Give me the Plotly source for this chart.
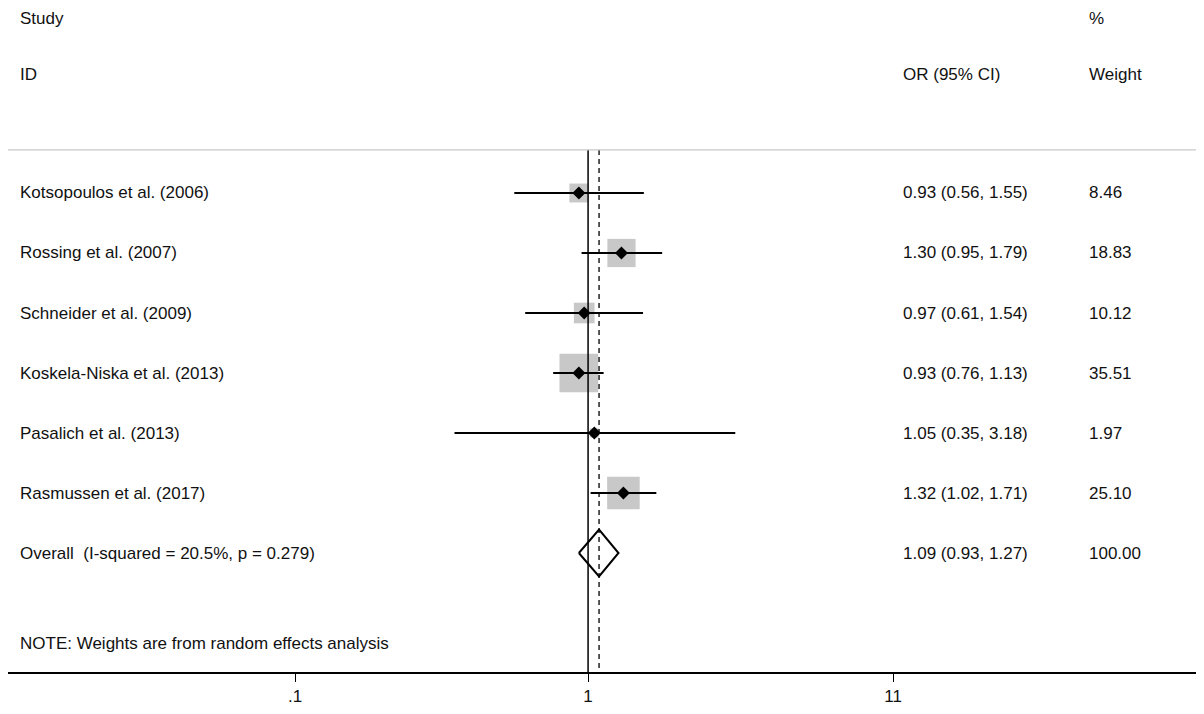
import plotly.graph_objects as go

studies = [
    "Kotsopoulos et al. (2006)",
    "Rossing et al. (2007)",
    "Schneider et al. (2009)",
    "Koskela-Niska et al. (2013)",
    "Pasalich et al. (2013)",
    "Rasmussen et al. (2017)",
]
or_est = [0.93, 1.30, 0.97, 0.93, 1.05, 1.32]
ci_low = [0.56, 0.95, 0.61, 0.76, 0.35, 1.02]
ci_high = [1.55, 1.79, 1.54, 1.13, 3.18, 1.71]
weights = [8.46, 18.83, 10.12, 35.51, 1.97, 25.10]

overall_label = "Overall  (I-squared = 20.5%, p = 0.279)"
overall_or = 1.09
overall_low = 0.93
overall_high = 1.27
overall_weight = 100.00

tick_vals = [0.1, 1, 11]
tick_text = [".1", "1", "11"]

font = "Liberation Sans, Arial, sans-serif"
FS = 17
# the page puts the figure 8px in from the window corner
W, H = 1188, 698


def px(p):
    # window pixel column -> paper coordinate
    return (p - 8) / W


n = len(studies)
rows = [-i for i in range(n)]
overall_row = -n

fig = go.Figure()

# gray weight boxes
fig.add_trace(go.Scatter(
    x=or_est, y=rows, mode="markers",
    marker=dict(symbol="square", color="#b0b0b0",
                size=[6.5 * w ** 0.5 for w in weights], line=dict(width=0)),
    hoverinfo="skip",
))

# confidence intervals
ci_x, ci_y = [], []
for lo, hi, r in zip(ci_low, ci_high, rows):
    ci_x += [lo, hi, None]
    ci_y += [r, r, None]
fig.add_trace(go.Scatter(
    x=ci_x, y=ci_y, mode="lines",
    line=dict(color="black", width=2), hoverinfo="skip",
))

# point estimates
fig.add_trace(go.Scatter(
    x=or_est, y=rows, mode="markers",
    marker=dict(symbol="diamond", color="black", size=10),
))

# overall diamond
dh = 0.39
fig.add_trace(go.Scatter(
    x=[overall_low, overall_or, overall_high, overall_or, overall_low],
    y=[overall_row, overall_row + dh, overall_row, overall_row - dh, overall_row],
    mode="lines", line=dict(color="black", width=2), hoverinfo="skip",
))

y_top = 0.717
y_bot = -7.983
y_max = 3.083

shapes = [
    dict(type="line", xref="x", yref="y", x0=1, x1=1, y0=y_top, y1=y_bot,
         line=dict(color="black", width=1.5)),
    dict(type="line", xref="x", yref="y", x0=overall_or, x1=overall_or,
         y0=y_top, y1=y_bot, line=dict(color="black", width=1.3, dash="5px,4px")),
    dict(type="line", xref="paper", yref="y", x0=0, x1=1, y0=y_top, y1=y_top,
         line=dict(color="#c8c8c8", width=1.3)),
]

annotations = []


def txt(x, y, s, anchor="middle"):
    annotations.append(dict(
        x=x, y=y, xref="paper", yref="y", text=s, showarrow=False,
        xanchor="left", yanchor=anchor, borderpad=0,
        font=dict(size=FS, color="#111111", family=font),
    ))


txt(px(19), y_max, "Study", "top")
txt(px(19), 1.967, "ID")
txt(px(1088), y_max, "%", "top")
txt(px(1088), 1.967, "Weight")
txt(px(902), 1.967, "OR (95% CI)")

for s, e, lo, hi, w, r in zip(studies, or_est, ci_low, ci_high, weights, rows):
    txt(px(19), r, s)
    txt(px(902), r, "{:.2f} ({:.2f}, {:.2f})".format(e, lo, hi))
    txt(px(1088), r, "{:.2f}".format(w))

txt(px(19), overall_row, overall_label)
txt(px(902), overall_row, "{:.2f} ({:.2f}, {:.2f})".format(overall_or, overall_low, overall_high))
txt(px(1088), overall_row, "{:.2f}".format(overall_weight))

txt(px(19), -7.5, "NOTE: Weights are from random effects analysis")

fig.update_layout(
    width=W, height=H,
    margin=dict(l=0, r=0, t=0, b=34),
    paper_bgcolor="white", plot_bgcolor="white",
    showlegend=False,
    shapes=shapes, annotations=annotations,
    font=dict(family=font, size=FS, color="#111111"),
    xaxis=dict(
        type="log", range=[-1.98, 2.075],
        tickvals=tick_vals, ticktext=tick_text,
        showgrid=False, zeroline=False,
        showline=True, linecolor="black", linewidth=1.5,
        ticks="outside", ticklen=8, tickcolor="black", tickwidth=1.2,
        tickfont=dict(size=FS, color="#111111", family=font),
    ),
    yaxis=dict(
        range=[y_bot, y_max], showgrid=False, zeroline=False,
        showticklabels=False, showline=False,
    ),
)

fig.write_html("out.html")
